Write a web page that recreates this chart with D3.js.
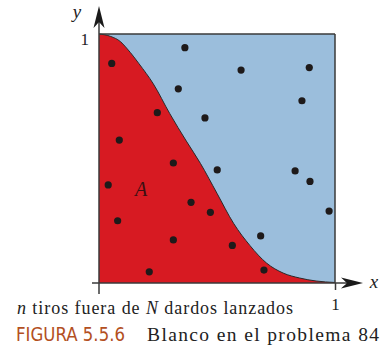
<!DOCTYPE html>
<html>
<head>
<meta charset="utf-8">
<script src="https://cdn.jsdelivr.net/npm/d3@7"></script>
<style>
  body { margin: 0; background: #fff; }
  svg { display: block; }
</style>
</head>
<body>
<div id="chart"></div>
<script>
// Curve (x, y in unit square)
var curveX = [0, 0.05, 0.09, 0.12, 0.17, 0.23, 0.30, 0.37, 0.43, 0.50, 0.57, 0.64, 0.71, 0.78, 0.85, 0.92, 1.0];
var curveY = [1, 0.99, 0.97, 0.94, 0.88, 0.80, 0.68, 0.57, 0.48, 0.36, 0.24, 0.15, 0.08, 0.04, 0.02, 0.008, 0.002];

// Darts thrown
var dartX = [0.364, 0.054, 0.602, 0.891, 0.336, 0.860, 0.247, 0.449, 0.086, 0.315, 0.501, 0.831,
             0.039, 0.894, 0.390, 0.472, 0.975, 0.079, 0.685, 0.315, 0.565, 0.213, 0.699];
var dartY = [0.945, 0.882, 0.855, 0.865, 0.780, 0.732, 0.684, 0.663, 0.574, 0.482, 0.454, 0.450,
             0.394, 0.408, 0.324, 0.284, 0.289, 0.250, 0.189, 0.173, 0.151, 0.045, 0.052];

var tickValues = [1];
var figLabel = "FIGURA 5.5.6";
var figText = "Blanco en el problema 84";

var width = 382, height = 350;
var x = d3.scaleLinear().domain([0, 1]).range([99, 335]);
var y = d3.scaleLinear().domain([0, 1]).range([283, 34]);

var svg = d3.select("#chart").append("svg")
    .attr("width", width)
    .attr("height", height);

var serif = "'Liberation Serif', 'Times New Roman', Tinos, serif";
var axisColor = "#3a3a3a";

// blue square
svg.append("rect")
    .attr("x", x(0))
    .attr("y", y(1))
    .attr("width", x(1) - x(0))
    .attr("height", y(0) - y(1))
    .style("fill", "#9bbedc");

var pts = curveX.map(function (d, i) { return [d, curveY[i]]; });

// red region under the curve
var area = d3.area()
    .x(function (d) { return x(d[0]); })
    .y0(y(0))
    .y1(function (d) { return y(d[1]); })
    .curve(d3.curveMonotoneX);

svg.append("path")
    .datum(pts)
    .attr("d", area)
    .style("fill", "#d71a22");

var line = d3.line()
    .x(function (d) { return x(d[0]); })
    .y(function (d) { return y(d[1]); })
    .curve(d3.curveMonotoneX);

svg.append("path")
    .datum(pts)
    .attr("d", line)
    .style("fill", "none")
    .style("stroke", "#2a2a2a")
    .style("stroke-width", 1);

// top and right borders
svg.append("line")
    .attr("x1", x(0)).attr("x2", x(1))
    .attr("y1", y(1)).attr("y2", y(1))
    .style("stroke", axisColor).style("stroke-width", 1.5);
svg.append("line")
    .attr("x1", x(1)).attr("x2", x(1))
    .attr("y1", y(1)).attr("y2", y(0))
    .style("stroke", axisColor).style("stroke-width", 1.5);

// dots
svg.selectAll("circle.dart")
    .data(dartX)
    .enter()
    .append("circle")
    .attr("class", "dart")
    .attr("cx", function (d) { return x(d); })
    .attr("cy", function (d, i) { return y(dartY[i]); })
    .attr("r", 3.6)
    .style("fill", "#1e1a1a");

// axes with the single "1" tick
var xAxis = svg.append("g")
    .attr("transform", "translate(0," + y(0) + ")")
    .call(d3.axisBottom(x).tickValues(tickValues).tickSize(7).tickFormat(d3.format("d")));
xAxis.select(".domain").remove();
xAxis.selectAll("line").style("stroke", axisColor).style("stroke-width", 1.5);
xAxis.selectAll("text")
    .attr("y", 15)
    .attr("dy", "0.71em")
    .style("font-family", serif)
    .style("font-size", "17px")
    .style("fill", "#222");

var yAxis = svg.append("g")
    .attr("transform", "translate(" + x(0) + ",0)")
    .call(d3.axisLeft(y).tickValues(tickValues).tickSize(0).tickFormat(d3.format("d")));
yAxis.select(".domain").remove();
yAxis.selectAll("text")
    .attr("x", -10)
    .attr("dy", "0.6em")
    .style("font-family", serif)
    .style("font-size", "17px")
    .style("fill", "#222");

// axis lines
svg.append("line")
    .attr("x1", x(0)).attr("x2", x(0))
    .attr("y1", y(0) + 11).attr("y2", 14)
    .style("stroke", axisColor).style("stroke-width", 1.5);
svg.append("line")
    .attr("x1", x(0) - 7).attr("x2", 352)
    .attr("y1", y(0)).attr("y2", y(0))
    .style("stroke", axisColor).style("stroke-width", 1.5);

// arrow heads
svg.append("path")
    .attr("d", "M0,0 L-5.5,22 Q0,16 0,16 Q0,16 5.5,22 Z")
    .attr("transform", "translate(" + x(0) + ",6)")
    .style("fill", "#1a1a1a");
svg.append("path")
    .attr("d", "M0,0 L-5.5,22 Q0,16 0,16 Q0,16 5.5,22 Z")
    .attr("transform", "translate(363," + y(0) + ") rotate(90)")
    .style("fill", "#1a1a1a");

// axis names
svg.append("text")
    .attr("x", 77).attr("y", 18)
    .attr("text-anchor", "middle")
    .style("font-family", serif).style("font-style", "italic")
    .style("font-size", "19px").style("fill", "#222")
    .text("y");
svg.append("text")
    .attr("x", 374).attr("y", 288)
    .attr("text-anchor", "middle")
    .style("font-family", serif).style("font-style", "italic")
    .style("font-size", "19px").style("fill", "#222")
    .text("x");

// A label
svg.append("text")
    .attr("x", 141).attr("y", 196)
    .attr("text-anchor", "middle")
    .style("font-family", serif).style("font-style", "italic")
    .style("font-size", "20px").style("fill", "#3b1012")
    .text("A");

// captions
var cap = svg.append("text")
    .attr("x", 17).attr("y", 314)
    .attr("textLength", 276)
    .style("font-family", serif)
    .style("font-size", "18px").style("fill", "#222");
cap.append("tspan").style("font-style", "italic").text("n");
cap.append("tspan").text(" tiros fuera de ");
cap.append("tspan").style("font-style", "italic").text("N");
cap.append("tspan").text(" dardos lanzados");

svg.append("text")
    .attr("x", 16).attr("y", 341)
    .attr("textLength", 109)
    .attr("lengthAdjust", "spacingAndGlyphs")
    .style("font-family", "'Liberation Sans Narrow', 'DejaVu Sans Condensed', 'Roboto', sans-serif")
    .style("font-size", "20px").style("fill", "#b3501f")
    .text(figLabel);

svg.append("text")
    .attr("x", 147).attr("y", 341)
    .attr("textLength", 232)
    .style("font-family", serif)
    .style("font-size", "19.5px").style("fill", "#222")
    .text(figText);
</script>
</body>
</html>
